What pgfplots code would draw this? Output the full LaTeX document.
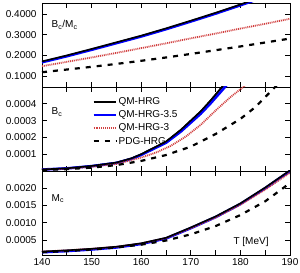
\documentclass[border=0pt]{standalone}
\usepackage{pgfplots}
\pgfplotsset{compat=1.18}
\usepackage{fontspec}
\setmainfont{Liberation Sans}
\definecolor{qmred}{rgb}{0.82,0.25,0.25}
\pgfplotsset{
  panel/.style={
    width=248pt, height=84pt, scale only axis,
    xmin=140, xmax=190,
    xtick={140,145,...,190},
    tick align=inside,
    major tick length=5pt,
    tick style={black, line width=0.6pt},
    axis line style={line width=0.8pt},
    scaled y ticks=false,
    /pgf/number format/assume math mode=true,
    y tick label style={/pgf/number format/fixed, /pgf/number format/fixed zerofill, /pgf/number format/precision=4},
    tick label style={font=\fontsize{10}{12}\selectfont},
    yticklabel style={xshift=-2pt},
  },
  qmhrg/.style={black, line width=1.6pt},
  qm35/.style={blue, line width=2.6pt},
  qm3/.style={qmred, line width=1.8pt, dash pattern=on 1pt off 0.9pt},
  pdg/.style={black, line width=2.2pt, dash pattern=on 5pt off 6pt},
}
\begin{document}
\begin{tikzpicture}
% ---------- panel 1: B_c/M_c
\begin{axis}[panel, at={(0,168pt)}, ymin=0.048, ymax=0.452,
  ytick={0.1,0.2,0.3,0.4}, xticklabels={}]
\addplot[qm35] table {
T v
140 0.167
145 0.196
150 0.227
155 0.259
160 0.291
165 0.326
170 0.363
175 0.401
180 0.441
185 0.483
190 0.526
};
\addplot[qm3] table {
T v
140 0.148
145 0.169
150 0.190
155 0.212
160 0.235
165 0.258
170 0.282
175 0.305
180 0.329
185 0.352
190 0.376
};
\addplot[pdg] table {
T v
140 0.119
145 0.132
150 0.145
155 0.159
160 0.174
165 0.190
170 0.207
175 0.225
180 0.243
185 0.262
190 0.281
};
\addplot[qmhrg] table {
T v
140 0.171
145 0.200
150 0.231
155 0.263
160 0.295
165 0.330
170 0.367
175 0.405
180 0.445
185 0.487
190 0.530
};
\node[anchor=west, font=\fontsize{10}{12}\selectfont] at (rel axis cs:0.025,0.74) {B\textsubscript{c}/M\textsubscript{c}};
\end{axis}
% ---------- panel 2: B_c
\begin{axis}[panel, at={(0,84pt)}, ymin=0, ymax=0.0005,
  ytick={0.0001,0.0002,0.0003,0.0004}, xticklabels={},
  legend style={draw=none, fill=none, font=\fontsize{10}{12}\selectfont,
    at={(rel axis cs:0.19,0.915)}, anchor=north west, row sep=1.6pt,
    nodes={inner sep=1.5pt},
    legend image code/.code={\draw[#1] (0cm,0cm) -- (0.78cm,0cm);}},
  legend cell align=left]
\addplot[qmhrg] table {
T v
140 0.000009
145 0.000016
150 0.000030
155 0.000050
158 0.000075
160 0.000100
162 0.000130
165 0.000175
168 0.000245
170 0.000300
172 0.000355
174 0.000420
176 0.000490
178 0.000560
};
\addlegendentry{QM-HRG}
\addplot[qm35] table {
T v
140 0.0000086
145 0.0000154
150 0.0000288
155 0.000048
158 0.000072
160 0.000096
162 0.000125
165 0.000168
168 0.000235
170 0.000288
172 0.000341
174 0.000403
176 0.000470
178 0.000538
};
\addlegendentry{QM-HRG-3.5}
\addplot[qm3] table {
T v
140 0.000008
145 0.000014
150 0.000025
155 0.000042
160 0.000080
163 0.000110
166 0.000150
169 0.000205
172 0.000275
175 0.000360
178 0.000440
181 0.000510
183 0.000560
};
\addlegendentry{QM-HRG-3}
\addplot[pdg] table {
T v
140 0.000006
145 0.000011
150 0.000020
155 0.000035
160 0.000060
165 0.000095
170 0.000145
175 0.000220
180 0.000310
183 0.000380
185 0.000440
187 0.000500
189 0.000560
};
\addlegendentry{PDG-HRG}
\addplot[qmhrg, forget plot] table {
T v
140 0.000009
145 0.000016
150 0.000030
155 0.000050
158 0.000075
160 0.000100
162 0.000130
165 0.000175
168 0.000245
170 0.000300
172 0.000355
174 0.000420
176 0.000490
178 0.000560
};
\node[anchor=west, font=\fontsize{10}{12}\selectfont] at (rel axis cs:0.025,0.70) {B\textsubscript{c}};
\end{axis}
% ---------- panel 3: M_c
\begin{axis}[panel, at={(0,0pt)}, ymin=0.00006, ymax=0.0025,
  ytick={0.0005,0.0010,0.0015,0.0020},
  xticklabels={140,,150,,160,,170,,180,,190}]
\addplot[qm35] table {
T v
140 0.00014
145 0.000175
150 0.00022
155 0.00028
160 0.00038
165 0.00054
170 0.00084
175 0.00116
180 0.00154
185 0.00200
190 0.00250
};
\addplot[qm3] table {
T v
140 0.00016
145 0.000195
150 0.00024
155 0.00030
160 0.000395
165 0.00055
170 0.00084
175 0.00115
180 0.00152
185 0.00196
190 0.00245
};
\addplot[pdg] table {
T v
140 0.00014
145 0.000175
150 0.00022
155 0.00028
160 0.00036
165 0.00048
170 0.00066
175 0.00090
180 0.00122
185 0.00162
190 0.00215
};
\addplot[qmhrg] table {
T v
140 0.00016
145 0.000195
150 0.00024
155 0.00030
160 0.00040
165 0.00056
170 0.00086
175 0.00118
180 0.00156
185 0.00202
190 0.00252
};
\node[anchor=west, font=\fontsize{10}{12}\selectfont] at (rel axis cs:0.025,0.67) {M\textsubscript{c}};
\node[font=\fontsize{10}{12}\selectfont] at (rel axis cs:0.843,0.155) {T [MeV]};
\end{axis}
\pgfresetboundingbox
\useasboundingbox (-42pt,-18pt) rectangle (258pt,255pt);
\end{tikzpicture}
\end{document}
